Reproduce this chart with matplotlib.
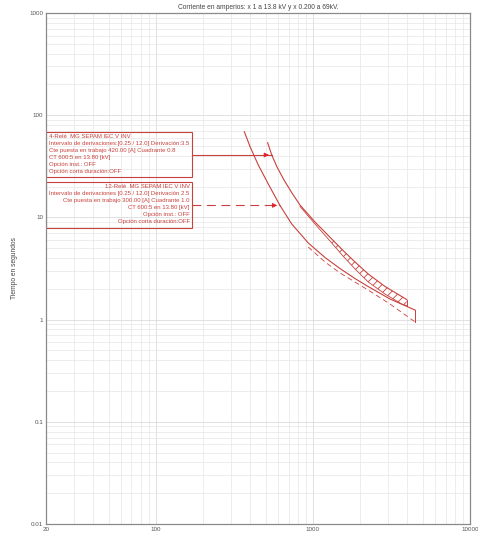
import matplotlib.pyplot as plt
from matplotlib.patches import Rectangle

# relay 4 (SEPAM, pickup 420 A, TMS 0.8) - upper / lower band
r4_i = [515, 547, 591, 655, 736, 828, 1031, 1317, 1554, 1854, 2252, 2876, 3676, 3954]
r4_t = [53.8, 40.8, 31.1, 23.2, 17.3, 13.2, 9.02, 6.15, 4.75, 3.66, 2.79, 2.11, 1.68, 1.57]
r4_lo_i = [828, 1031, 1317, 1554, 1854, 2252, 2876, 3676, 3954]
r4_lo_t = [12.8, 8.62, 5.62, 4.19, 3.13, 2.33, 1.78, 1.42, 1.37]

# relay 12 (SEPAM, pickup 300 A, TMS 1.0)
r12_i = [366, 398, 449, 520, 617, 733, 934, 1194, 1487, 1854, 2242, 3096, 4466]
r12_t = [69.0, 49.2, 32.6, 21.2, 13.1, 8.62, 5.62, 4.05, 3.16, 2.52, 2.11, 1.59, 1.24]
r12_lo_i = [934, 1194, 1487, 2242, 3096, 4466]
r12_lo_t = [5.13, 3.66, 2.86, 1.95, 1.42, 0.95]

# label arrows: start current, target current, time
arrow_from = 170
arrow_to = [547, 617]
arrow_t = [40.8, 13.1]

x_ticks = [20, 100, 1000, 10000]
x_labels = ['20', '100', '1000', '10000']
y_ticks = [0.01, 0.1, 1, 10, 100, 1000]
y_labels = ['0.01', '0.1', '1', '10', '100', '1000']

box4_lines = ['4-Relé  MG SEPAM IEC V INV',
              'Intervalo de derivaciones:[0.25 / 12.0] Derivación:3.5',
              'Cte puesta en trabajo 420.00 [A] Cuadrante 0.8',
              'CT 600:5 en 13.80 [kV]',
              'Opción inst.: OFF',
              'Opción corta duración:OFF']
box12_lines = ['12-Relé  MG SEPAM IEC V INV',
               'Intervalo de derivaciones [0.25 / 12.0] Derivación 2.5',
               'Cte puesta en trabajo 300.00 [A] Cuadrante 1.0',
               'CT 600:5 en 13.80 [kV]',
               'Opción inst.: OFF',
               'Opción corta duración:OFF']

RED = '#c8413c'
HEAD = '#e3202a'
plt.rcParams['font.family'] = ['Liberation Sans', 'DejaVu Sans']
plt.rcParams['hatch.linewidth'] = 0.6

fig = plt.figure(figsize=(4.78, 5.35), dpi=100)
ax = fig.add_axes([0.0962, 0.0206, 0.8871, 0.9551])
ax.set_xscale('log')
ax.set_yscale('log')
ax.set_xlim(20, 10000)
ax.set_ylim(0.01, 1000)
ax.grid(which='major', color='#dcdcdc', lw=0.6)
ax.grid(which='minor', color='#e6e6e6', lw=0.5)
ax.set_axisbelow(True)
for s in ax.spines.values():
    s.set_color('#8a8a8a')
    s.set_linewidth(0.9)

ax.set_xticks(x_ticks)
ax.set_xticklabels(x_labels)
ax.set_yticks(y_ticks)
ax.set_yticklabels(y_labels)
ax.tick_params(which='both', length=0, labelsize=4.5, colors='#555555', pad=2)
ax.set_title('Corriente en amperios: x 1 a 13.8 kV y x 0.200 a 69kV.',
             fontsize=4.8, color='#444444', pad=3)
ax.set_ylabel('Tiempo en segundos', fontsize=4.8, color='#444444', labelpad=8)

# curves
ax.plot(r4_i, r4_t, color=RED, lw=0.8)
ax.plot(r4_lo_i, r4_lo_t, color=RED, lw=0.6)
ax.plot([r4_i[-1], r4_lo_i[-1]], [r4_t[-1], r4_lo_t[-1]], color=RED, lw=0.7)
ax.fill_between(r4_lo_i[2:], r4_lo_t[2:],
                [r4_t[r4_i.index(v)] for v in r4_lo_i[2:]],
                facecolor='none', edgecolor=RED, lw=0, hatch='////')

ax.plot(r12_i, r12_t, color=RED, lw=0.8)
ax.plot(r12_lo_i, r12_lo_t, color=RED, lw=0.6, dashes=(6, 4))
ax.plot([r12_i[-1], r12_lo_i[-1]], [r12_t[-1], r12_lo_t[-1]], color=RED, lw=0.7)

# arrows from the boxes to the curves
ax.plot([arrow_from, arrow_to[0]], [arrow_t[0], arrow_t[0]], color=RED, lw=0.8)
ax.plot([arrow_from, arrow_to[1]], [arrow_t[1], arrow_t[1]], color=RED, lw=0.8,
        dashes=(8, 5))
for xt, yt in zip(arrow_to, arrow_t):
    ax.annotate('', xy=(xt, yt), xytext=(xt * 0.88, yt),
                arrowprops=dict(arrowstyle='-|>', color=HEAD, lw=0.6,
                                mutation_scale=7))

# label boxes
ax.add_patch(Rectangle((0.0, 0.679), 0.344, 0.089, transform=ax.transAxes,
                       fill=False, ec=RED, lw=0.8))
ax.add_patch(Rectangle((0.0, 0.579), 0.344, 0.091, transform=ax.transAxes,
                       fill=False, ec=RED, lw=0.8))
ax.text(0.006, 0.764, '\n'.join(box4_lines), transform=ax.transAxes,
        ha='left', va='top', fontsize=4.3, color=RED, linespacing=1.5)
ax.text(0.339, 0.666, '\n'.join(box12_lines), transform=ax.transAxes,
        ha='right', va='top', fontsize=4.3, color=RED, linespacing=1.5,
        multialignment='right')

fig.savefig('out.png', dpi=100)
